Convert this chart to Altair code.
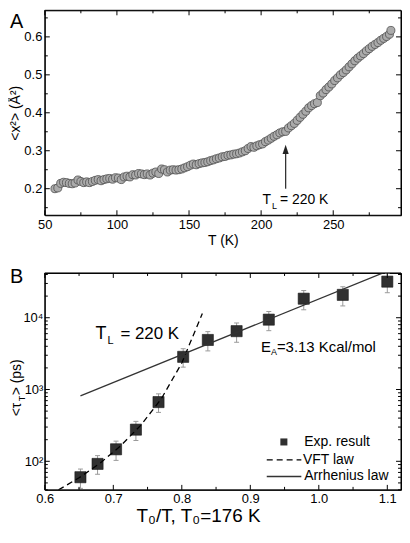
import altair as alt
import pandas as pd

# ---------------- Panel A data ----------------
temp_A = [57, 59, 61, 63, 65, 67, 69, 71, 73, 75, 77, 79, 81, 83, 85, 87, 89, 91, 93, 95,
          97, 99, 101, 103, 105, 107, 109, 111, 113, 115, 117, 119, 121, 123, 125, 127, 129,
          131, 133, 135, 137, 139, 141, 143, 145, 147, 149, 151, 153, 155, 157, 159, 161,
          163, 165, 167, 169, 171, 173, 175, 177, 179, 181, 183, 185, 187, 189, 191, 193,
          195, 197, 199, 201, 203, 205, 207, 209, 211, 213, 215, 217, 219, 221, 223, 225,
          227, 229, 231, 233, 235, 237, 239, 241, 243, 245, 247, 249, 251, 253, 255, 257,
          259, 261, 263, 265, 267, 269, 271, 273, 275, 277, 279, 281, 283, 285, 287, 289, 290]
msd_A = [0.200, 0.202, 0.214, 0.217, 0.216, 0.214, 0.213, 0.215, 0.223, 0.219, 0.216, 0.218,
         0.216, 0.219, 0.222, 0.224, 0.221, 0.224, 0.226, 0.227, 0.225, 0.229, 0.228, 0.224,
         0.231, 0.233, 0.231, 0.237, 0.236, 0.240, 0.239, 0.237, 0.239, 0.236, 0.241, 0.244,
         0.240, 0.252, 0.250, 0.244, 0.249, 0.250, 0.249, 0.250, 0.252, 0.255, 0.258, 0.262,
         0.265, 0.263, 0.266, 0.268, 0.269, 0.271, 0.274, 0.276, 0.279, 0.281, 0.284, 0.285,
         0.288, 0.289, 0.291, 0.292, 0.294, 0.297, 0.300, 0.306, 0.311, 0.309, 0.313, 0.316,
         0.318, 0.324, 0.328, 0.333, 0.338, 0.342, 0.347, 0.350, 0.351, 0.360, 0.366, 0.372,
         0.380, 0.388, 0.396, 0.404, 0.413, 0.419, 0.424, 0.427, 0.445, 0.452, 0.461, 0.468,
         0.476, 0.485, 0.492, 0.500, 0.506, 0.513, 0.521, 0.529, 0.537, 0.544, 0.550, 0.556,
         0.563, 0.569, 0.575, 0.580, 0.585, 0.591, 0.596, 0.601, 0.607, 0.617]

# ---------------- Panel B data ----------------
ratio_B = [0.652, 0.677, 0.704, 0.733, 0.766, 0.802, 0.838, 0.880, 0.927, 0.978, 1.035, 1.100]
tau_B = [60, 92, 147, 276, 668, 2850, 4900, 6500, 9400, 18400, 20800, 31800]
tau_lo_B = [42, 66, 103, 195, 480, 2050, 3450, 4550, 6600, 12900, 14600, 22300]
tau_hi_B = [78, 120, 191, 360, 870, 3700, 6400, 8450, 12200, 23900, 27000, 41400]

vft_x = [0.62, 0.65, 0.68, 0.71, 0.74, 0.77, 0.80, 0.83]
vft_y = [40, 59, 93, 162, 316, 741, 2344, 11480]
arr_x = [0.652, 1.10]
arr_y = [815, 44500]

# tick values
A_x_major = [50, 100, 150, 200, 250]
A_x_minor = [75, 125, 175, 225, 275]
A_y_major = [0.2, 0.3, 0.4, 0.5, 0.6]
A_y_minor = [0.15, 0.25, 0.35, 0.45, 0.55, 0.65]
B_x_major = [0.6, 0.7, 0.8, 0.9, 1.0, 1.1]
B_x_minor = [0.65, 0.75, 0.85, 0.95, 1.05]
B_y_major = [100, 1000, 10000]
B_y_minor = [40, 50, 60, 70, 80, 90, 200, 300, 400, 500, 600, 700, 800, 900,
             2000, 3000, 4000, 5000, 6000, 7000, 8000, 9000, 20000, 30000, 40000]

FONT = "Liberation Sans"
W = 358
HA = 206
HB = 218

dfA = pd.DataFrame({"T": temp_A, "msd": msd_A})
dfB = pd.DataFrame({"r": ratio_B, "tau": tau_B, "lo": tau_lo_B, "hi": tau_hi_B})
dfVFT = pd.DataFrame({"r": vft_x, "tau": vft_y})
dfARR = pd.DataFrame({"r": arr_x, "tau": arr_y})
one = pd.DataFrame({"k": [0]})

xA_scale = alt.Scale(domain=[50, 297], nice=False, zero=False)
yA_scale = alt.Scale(domain=[0.13, 0.67], nice=False, zero=False)
xB_scale = alt.Scale(domain=[0.6, 1.12], nice=False, zero=False)
yB_scale = alt.Scale(type="log", domain=[40, 42000], nice=False)


def xticks(vals, scale, H, size, top):
    return alt.Chart(pd.DataFrame({"v": vals})).mark_rule(color="#000", strokeWidth=1).encode(
        x=alt.X("v:Q", scale=scale, axis=None),
        y=alt.value(0 if top else H), y2=alt.value(size if top else H - size))


def yticks(vals, scale, size, right):
    return alt.Chart(pd.DataFrame({"v": vals})).mark_rule(color="#000", strokeWidth=1).encode(
        y=alt.Y("v:Q", scale=scale, axis=None),
        x=alt.value(W if right else 0), x2=alt.value(W - size if right else size))


def frame(H):
    top = alt.Chart(one).mark_rule(color="#000", strokeWidth=1).encode(
        x=alt.value(0), x2=alt.value(W), y=alt.value(0))
    bot = alt.Chart(one).mark_rule(color="#000", strokeWidth=1).encode(
        x=alt.value(0), x2=alt.value(W), y=alt.value(H))
    lef = alt.Chart(one).mark_rule(color="#000", strokeWidth=1).encode(
        x=alt.value(0), y=alt.value(0), y2=alt.value(H))
    rig = alt.Chart(one).mark_rule(color="#000", strokeWidth=1).encode(
        x=alt.value(W), y=alt.value(0), y2=alt.value(H))
    return [top, bot, lef, rig]


def all_ticks(xs, ys, xmaj, xmin, ymaj, ymin, H):
    return [xticks(xmaj, xs, H, 5, False), xticks(xmin, xs, H, 3, False),
            xticks(xmaj, xs, H, 5, True), xticks(xmin, xs, H, 3, True),
            yticks(ymaj, ys, 5, False), yticks(ymin, ys, 3, False),
            yticks(ymaj, ys, 5, True), yticks(ymin, ys, 3, True)]


def txt(df, xf, yf, xs, ys, text, size, dx=0, dy=0, align="left"):
    return alt.Chart(df).mark_text(text=text, font=FONT, fontSize=size, dx=dx, dy=dy,
                                   align=align, baseline="middle", color="#000").encode(
        x=alt.X(xf, scale=xs, axis=None), y=alt.Y(yf, scale=ys, axis=None))


# ---------------- Panel A ----------------
axA_bottom = alt.Axis(orient="bottom", values=A_x_major, ticks=False, tickSize=0, domain=False,
                      grid=False, labelPadding=3, labelFontSize=13, labelFlush=False,
                      labelOverlap=False, format="d", title="T (K)", titleFontSize=14,
                      titlePadding=2)
axA_left = alt.Axis(orient="left", values=A_y_major, ticks=False, tickSize=0, domain=False,
                    grid=False, labelPadding=3, labelFontSize=13, labelFlush=False,
                    labelOverlap=False, format=".1f", title="<x²> (Å²)", titleFontSize=14,
                    titlePadding=1)

a_pts = alt.Chart(dfA).mark_point(shape="circle", filled=True, fill="#ababab", stroke="#4f4f4f",
                                  strokeWidth=0.8, size=65, opacity=1).encode(
    x=alt.X("T:Q", scale=xA_scale, axis=axA_bottom),
    y=alt.Y("msd:Q", scale=yA_scale, axis=axA_left),
)

arrow = pd.DataFrame({"T": [217], "y0": [0.200], "y1": [0.3036]})
a_arrow = alt.Chart(arrow).mark_rule(color="#333", strokeWidth=1.3).encode(
    x=alt.X("T:Q", scale=xA_scale, axis=None),
    y=alt.Y("y0:Q", scale=yA_scale, axis=None), y2="y1:Q")
a_head = alt.Chart(arrow).mark_point(shape="M0,-1L0.65,1L-0.65,1Z", filled=True, fill="#222",
                                     strokeWidth=0, size=90, opacity=1).encode(
    x=alt.X("T:Q", scale=xA_scale, axis=None),
    y=alt.Y("y1:Q", scale=yA_scale, axis=None))

annA = pd.DataFrame({"x": [201], "y": [0.171]})
a_t1 = txt(annA, "x:Q", "y:Q", xA_scale, yA_scale, "T", 14)
a_t2 = txt(annA, "x:Q", "y:Q", xA_scale, yA_scale, "L", 9, dx=9.5, dy=6)
a_t3 = txt(annA, "x:Q", "y:Q", xA_scale, yA_scale, "= 220 K", 14, dx=17.5)

a_letter = alt.Chart(one).mark_text(text="A", font=FONT, fontSize=20, align="left",
                                    baseline="top", color="#000").encode(
    x=alt.value(-35), y=alt.value(2))

panelA = alt.layer(
    a_pts, a_arrow, a_head, a_t1, a_t2, a_t3, a_letter,
    *all_ticks(xA_scale, yA_scale, A_x_major, A_x_minor, A_y_major, A_y_minor, HA),
    *frame(HA)
).resolve_axis(x="independent", y="independent").properties(width=W, height=HA)

# ---------------- Panel B ----------------
axB_bottom = alt.Axis(orient="bottom", values=B_x_major, ticks=False, tickSize=0, domain=False,
                      grid=False, labelPadding=3, labelFontSize=13, labelFlush=False,
                      labelOverlap=False, format=".1f", title="T₀/T,  T₀=176 K",
                      titleFontSize=19, titlePadding=1, titleX=154)
axB_left = alt.Axis(orient="left", values=B_y_major, ticks=False, tickSize=0, domain=False,
                    grid=False, labelPadding=2, labelFontSize=13, labelFlush=False,
                    labelOverlap=False, title=None,
                    labelExpr="datum.value == 100 ? '10²' : datum.value == 1000 ? '10³' : '10⁴'")

b_err = alt.Chart(dfB).mark_rule(color="#9a9a9a", strokeWidth=1).encode(
    x=alt.X("r:Q", scale=xB_scale, axis=None),
    y=alt.Y("lo:Q", scale=yB_scale, axis=None), y2="hi:Q")
b_cap_lo = alt.Chart(dfB).mark_tick(orient="horizontal", size=5, thickness=1, color="#9a9a9a",
                                    opacity=1).encode(
    x=alt.X("r:Q", scale=xB_scale, axis=None), y=alt.Y("lo:Q", scale=yB_scale, axis=None))
b_cap_hi = alt.Chart(dfB).mark_tick(orient="horizontal", size=5, thickness=1, color="#9a9a9a",
                                    opacity=1).encode(
    x=alt.X("r:Q", scale=xB_scale, axis=None), y=alt.Y("hi:Q", scale=yB_scale, axis=None))
b_sq = alt.Chart(dfB).mark_point(shape="square", filled=True, fill="#303030", stroke="#161616",
                                 strokeWidth=0.6, size=125, opacity=1).encode(
    x=alt.X("r:Q", scale=xB_scale, axis=axB_bottom),
    y=alt.Y("tau:Q", scale=yB_scale, axis=axB_left),
)

b_vft = alt.Chart(dfVFT).mark_line(color="#000", strokeWidth=1.3, strokeDash=[6, 4], clip=True).encode(
    x=alt.X("r:Q", scale=xB_scale, axis=None), y=alt.Y("tau:Q", scale=yB_scale, axis=None))
b_arr = alt.Chart(dfARR).mark_line(color="#333", strokeWidth=1.3, clip=True).encode(
    x=alt.X("r:Q", scale=xB_scale, axis=None), y=alt.Y("tau:Q", scale=yB_scale, axis=None))

annB1 = pd.DataFrame({"x": [0.674], "y": [5840]})
b_t1 = txt(annB1, "x:Q", "y:Q", xB_scale, yB_scale, "T", 18)
b_t2 = txt(annB1, "x:Q", "y:Q", xB_scale, yB_scale, "L", 11, dx=12, dy=7)
b_t3 = txt(annB1, "x:Q", "y:Q", xB_scale, yB_scale, "= 220 K", 17, dx=25)

annB2 = pd.DataFrame({"x": [0.9156], "y": [3860]})
b_e1 = txt(annB2, "x:Q", "y:Q", xB_scale, yB_scale, "E", 15)
b_e2 = txt(annB2, "x:Q", "y:Q", xB_scale, yB_scale, "A", 9, dx=10, dy=5)
b_e3 = txt(annB2, "x:Q", "y:Q", xB_scale, yB_scale, "=3.13 Kcal/mol", 15, dx=16)

# legend (drawn by hand)
leg_sym = pd.DataFrame({"x": [0.949], "y": [186]})
leg_lines = pd.DataFrame({"x": [0.924, 0.924], "x2": [0.9745, 0.9745], "y": [105, 61.4],
                          "kind": ["VFT", "Arr"]})
leg_text = pd.DataFrame({"x": [0.9787, 0.977, 0.9787], "y": [186, 105, 61.4],
                         "label": ["Exp. result", "VFT law", "Arrhenius law"]})
l_sq = alt.Chart(leg_sym).mark_point(shape="square", filled=True, fill="#303030", size=50,
                                     opacity=1).encode(
    x=alt.X("x:Q", scale=xB_scale, axis=None), y=alt.Y("y:Q", scale=yB_scale, axis=None))
l_vft = alt.Chart(leg_lines).transform_filter("datum.kind == 'VFT'").mark_rule(
    color="#000", strokeWidth=1.3, strokeDash=[6, 4]).encode(
    x=alt.X("x:Q", scale=xB_scale, axis=None), x2="x2:Q",
    y=alt.Y("y:Q", scale=yB_scale, axis=None))
l_arr = alt.Chart(leg_lines).transform_filter("datum.kind == 'Arr'").mark_rule(
    color="#333", strokeWidth=1.3).encode(
    x=alt.X("x:Q", scale=xB_scale, axis=None), x2="x2:Q",
    y=alt.Y("y:Q", scale=yB_scale, axis=None))
l_txt = alt.Chart(leg_text).mark_text(font=FONT, fontSize=14, align="left", baseline="middle",
                                      color="#000").encode(
    x=alt.X("x:Q", scale=xB_scale, axis=None), y=alt.Y("y:Q", scale=yB_scale, axis=None),
    text="label:N")

# y title  <τ_T> (ps) drawn in pieces (rotated)
YT = 144
yt1 = alt.Chart(one).mark_text(text="<τ", font=FONT, fontSize=14, angle=270, align="left",
                               baseline="middle", color="#000").encode(
    x=alt.value(-28), y=alt.value(YT))
yt2 = alt.Chart(one).mark_text(text="T", font=FONT, fontSize=9, angle=270, align="left",
                               baseline="middle", color="#000", dx=15, dy=5).encode(
    x=alt.value(-28), y=alt.value(YT))
yt3 = alt.Chart(one).mark_text(text="> (ps)", font=FONT, fontSize=14, angle=270, align="left",
                               baseline="middle", color="#000", dx=21).encode(
    x=alt.value(-28), y=alt.value(YT))

b_letter = alt.Chart(one).mark_text(text="B", font=FONT, fontSize=20, align="left",
                                    baseline="top", color="#000").encode(
    x=alt.value(-35), y=alt.value(-6))

panelB = alt.layer(
    b_err, b_cap_lo, b_cap_hi, b_sq, b_vft, b_arr,
    b_t1, b_t2, b_t3, b_e1, b_e2, b_e3, l_sq, l_vft, l_arr, l_txt,
    yt1, yt2, yt3, b_letter,
    *all_ticks(xB_scale, yB_scale, B_x_major, B_x_minor, B_y_major, B_y_minor, HB),
    *frame(HB)
).resolve_axis(x="independent", y="independent").properties(width=W, height=HB)

chart = alt.vconcat(panelA, panelB, spacing=18).properties(
    padding={"left": 0, "top": 0, "right": 0, "bottom": 0}
).configure(font=FONT).configure_view(stroke="#000", strokeWidth=1).configure_axis(
    labelFont=FONT, titleFont=FONT, labelColor="#000", titleColor="#000",
    titleFontWeight="normal", grid=False
)

chart.save("out.html", embed_options={"renderer": "svg", "actions": False})
